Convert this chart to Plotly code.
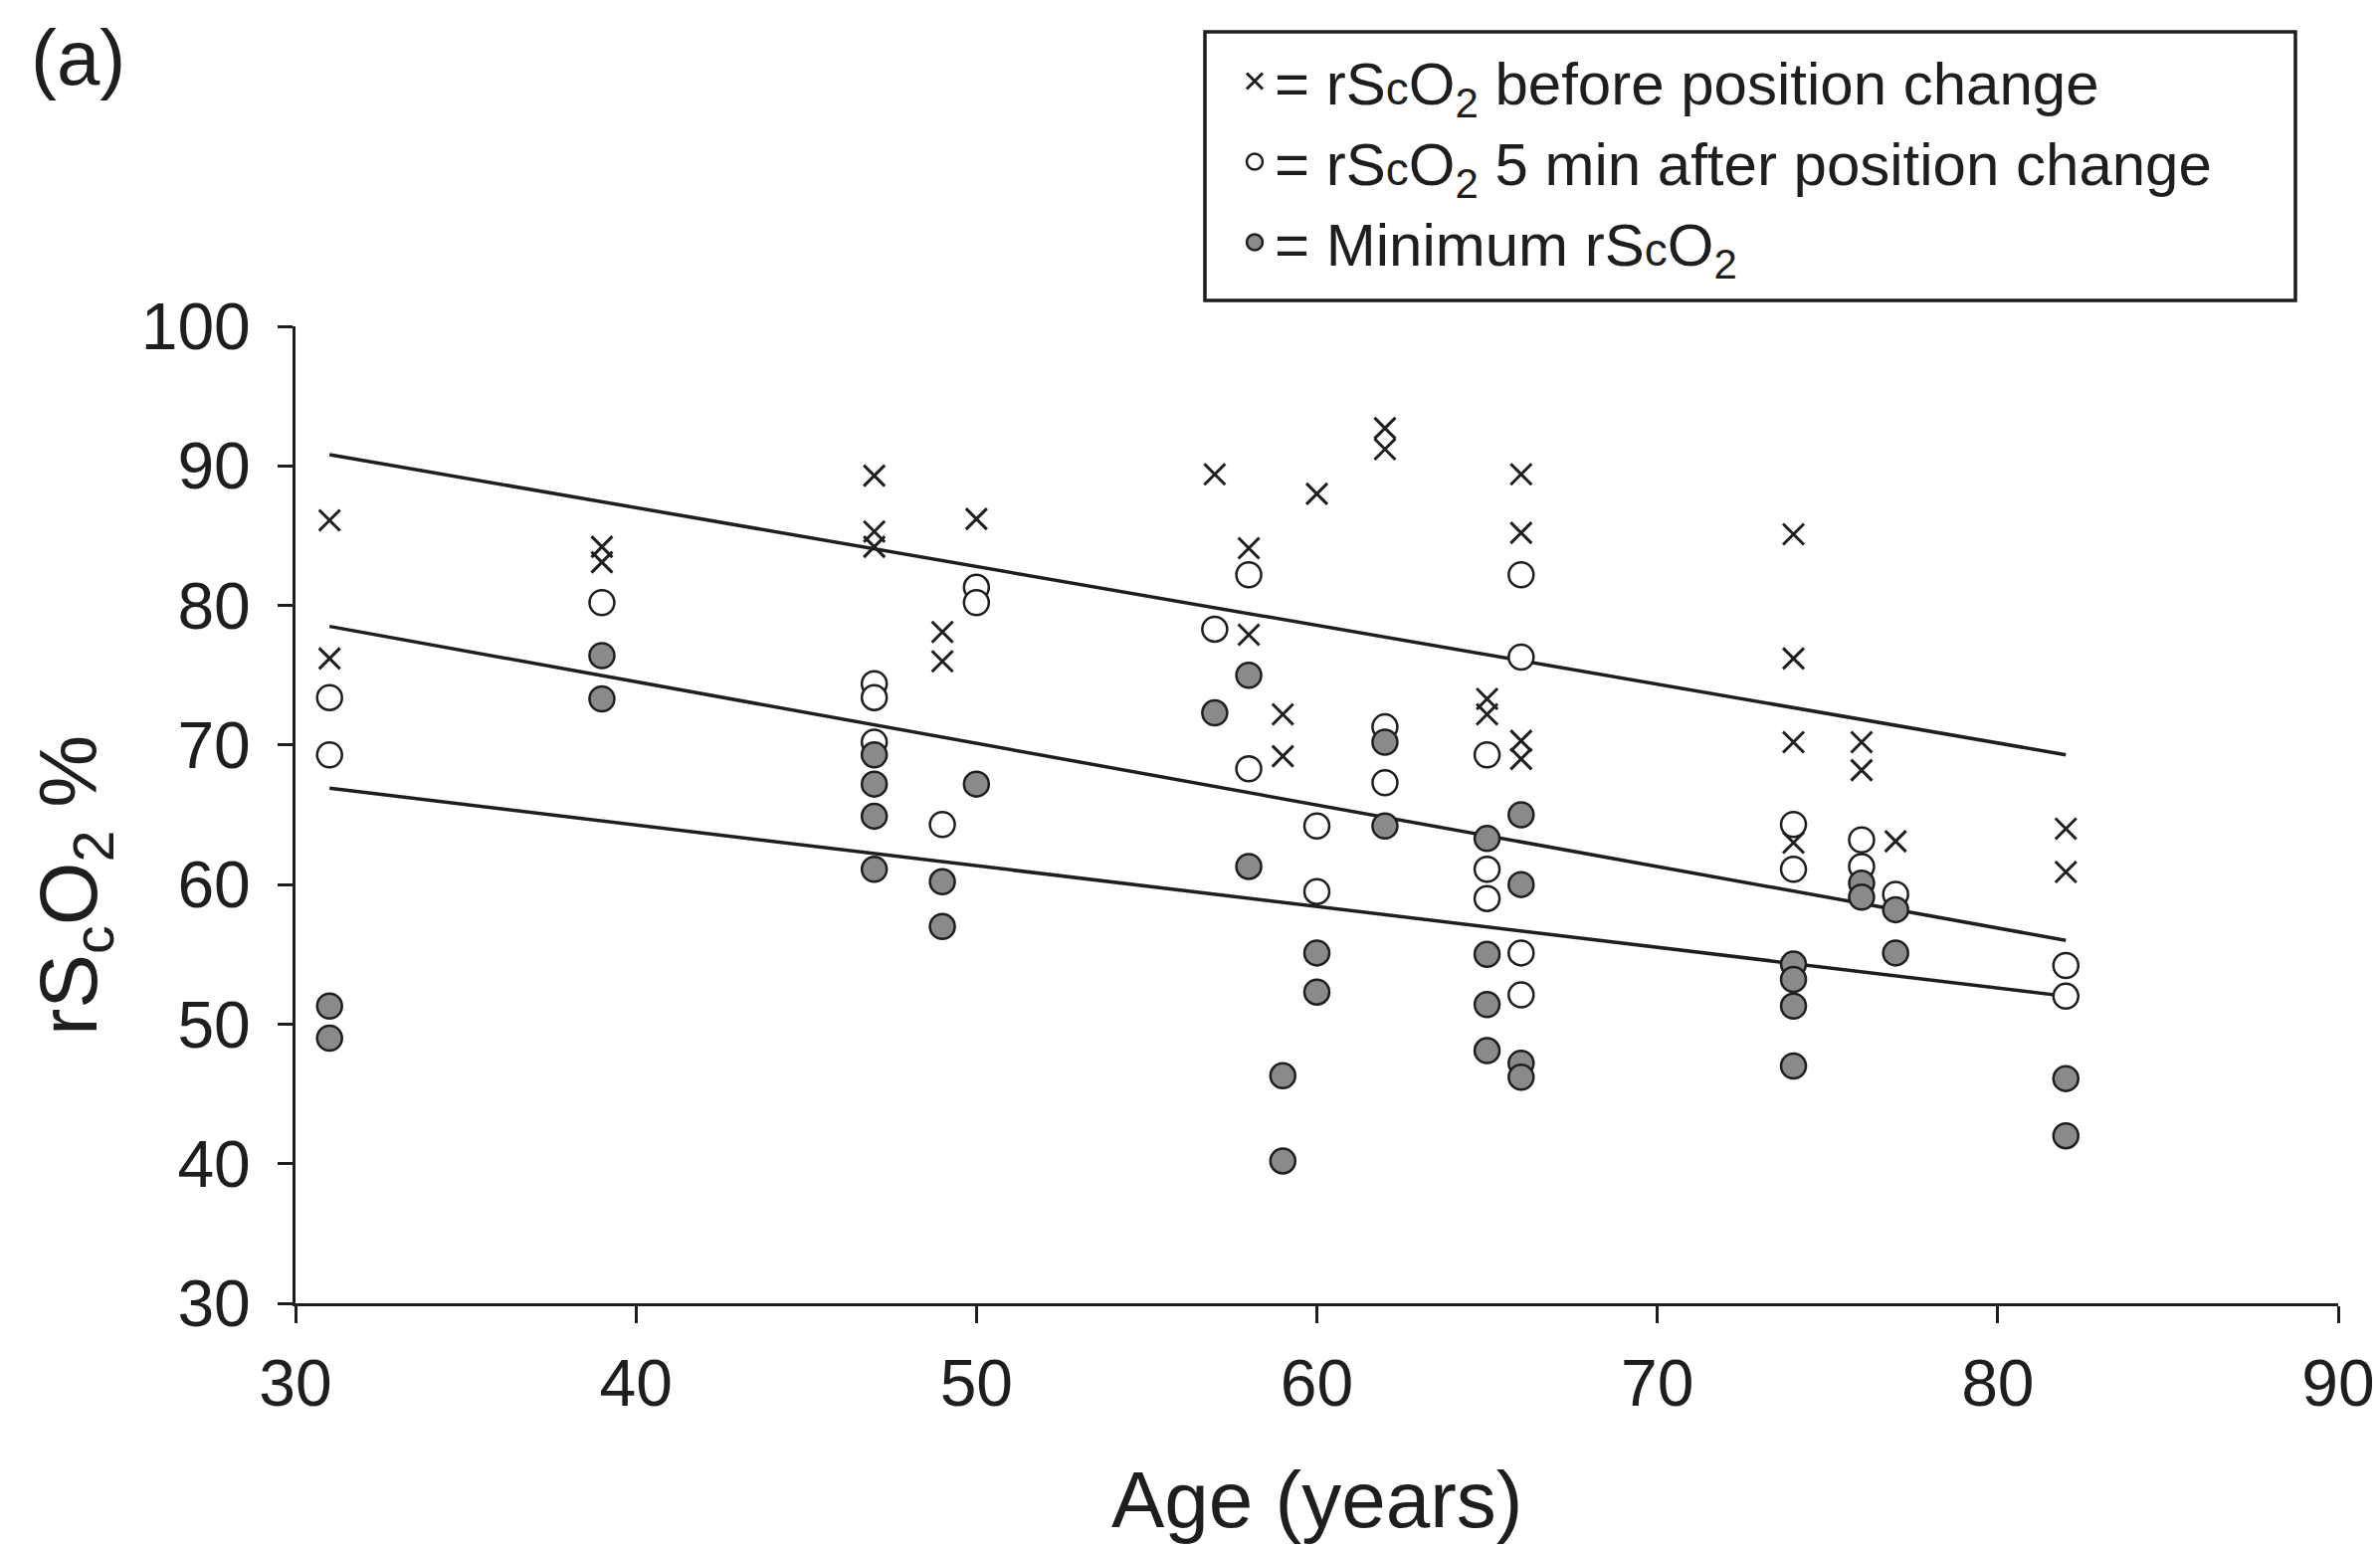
import plotly.graph_objects as go

# ---- data ----
before_age = [31, 31, 39, 39, 47, 47, 47, 49, 49, 50, 57, 58, 58, 59, 59, 60, 62, 62,
              65, 65, 66, 66, 66, 66, 74, 74, 74, 74, 76, 76, 77, 82, 82]
before_val = [86.1, 76.2, 84.2, 83.1, 89.3, 85.3, 84.2, 78.1, 76.0, 86.2, 89.4, 84.1, 77.9,
              72.2, 69.2, 88.0, 92.7, 91.2, 73.3, 72.2, 89.4, 85.2, 70.3, 69.0,
              85.1, 76.2, 70.2, 63.0, 70.2, 68.2, 63.1, 64.0, 60.9]

after_age = [31, 31, 39, 47, 47, 47, 49, 50, 50, 57, 58, 58, 60, 60, 62, 62,
             65, 65, 65, 66, 66, 66, 66, 74, 74, 76, 76, 77, 82, 82]
after_val = [73.4, 69.3, 80.2, 74.4, 73.4, 70.2, 64.3, 81.3, 80.2, 78.3, 82.2, 68.3,
             64.2, 59.5, 71.3, 67.3, 69.3, 61.1, 59.0, 82.2, 76.3, 55.1, 52.1,
             64.3, 61.1, 63.2, 61.3, 59.3, 54.2, 52.0]

min_age = [31, 31, 39, 39, 47, 47, 47, 47, 49, 49, 50, 57, 58, 58, 59, 59, 60, 60, 62, 62,
           65, 65, 65, 65, 66, 66, 66, 66, 74, 74, 74, 74, 76, 76, 77, 77, 82, 82]
min_val = [51.3, 49.0, 76.4, 73.3, 69.3, 67.2, 64.9, 61.1, 60.2, 57.0, 67.2, 72.3, 75.0, 61.3,
           46.3, 40.2, 55.1, 52.3, 70.2, 64.2, 63.3, 55.0, 51.4, 48.1, 65.0, 60.0, 47.2, 46.2,
           54.3, 53.2, 51.3, 47.0, 60.1, 59.1, 58.2, 55.1, 46.1, 42.0]

trend_age = [31, 82]
trend_before = [90.8, 69.3]
trend_after = [78.5, 56.0]
trend_min = [66.9, 52.0]

x_ticks = [30, 40, 50, 60, 70, 80, 90]
y_ticks = [30, 40, 50, 60, 70, 80, 90, 100]

SC = "<span style='font-size:46px'>c</span>"
legend_before = "= rS" + SC + "O<sub>2</sub> before position change"
legend_after = "= rS" + SC + "O<sub>2</sub> 5 min after position change"
legend_min = "= Minimum rS" + SC + "O<sub>2</sub>"
y_title = "rS<sub>c</sub>O<sub>2</sub> %"
x_title = "Age (years)"
panel_label = "(a)"

INK = "#1e1e1e"
GRAY = "#8a8a8a"
FONT = "Liberation Sans, Arial, Helvetica, sans-serif"

# page body has an 8px margin: the figure is shrunk by that and placed from (8, 8)
PAGE_OFF = 8
W, H = 2392 - PAGE_OFF, 1556 - PAGE_OFF
L, R, T, B = 297 - PAGE_OFF, 42, 328 - PAGE_OFF, 246
PW = 2392 - 42 - 297   # plot width in px
PH = 1310 - 328        # plot height in px

fig = go.Figure()

for ys in (trend_before, trend_after, trend_min):
    fig.add_trace(go.Scatter(x=trend_age, y=ys, mode="lines",
                             line=dict(color=INK, width=3.5), showlegend=False,
                             hoverinfo="skip"))

fig.add_trace(go.Scatter(x=before_age, y=before_val, mode="markers", name=legend_before,
                         marker=dict(symbol="x-thin-open", size=21,
                                     line=dict(color=INK, width=3), color=INK)))
fig.add_trace(go.Scatter(x=after_age, y=after_val, mode="markers", name=legend_after,
                         marker=dict(symbol="circle", size=25, color="white",
                                     line=dict(color=INK, width=2.5))))
fig.add_trace(go.Scatter(x=min_age, y=min_val, mode="markers", name=legend_min,
                         marker=dict(symbol="circle", size=25, color=GRAY,
                                     line=dict(color=INK, width=2.5))))

tick_font = dict(family=FONT, size=66, color=INK)

fig.update_xaxes(range=[30, 90], tickvals=x_ticks, ticktext=[str(v) for v in x_ticks],
                 showline=True, linecolor=INK, linewidth=3, ticks="outside",
                 ticklen=17, tickwidth=3, tickcolor=INK, showgrid=False, zeroline=False,
                 tickfont=tick_font, ticklabelstandoff=4, automargin=False)
fig.update_yaxes(range=[30, 100], tickvals=y_ticks, ticktext=[str(v) for v in y_ticks],
                 showline=True, linecolor=INK, linewidth=3, ticks="outside",
                 ticklen=15, tickwidth=3, tickcolor=INK, showgrid=False, zeroline=False,
                 tickfont=tick_font, ticklabelstandoff=14, automargin=False)

fig.add_annotation(text=x_title, xref="paper", yref="paper", x=0.5, y=0,
                   yshift=-197, xanchor="center", yanchor="middle", showarrow=False,
                   font=dict(family=FONT, size=80, color=INK))
fig.add_annotation(text=y_title, xref="paper", yref="paper", x=0, y=0.4277,
                   xshift=-222, xanchor="center", yanchor="middle", textangle=-90,
                   showarrow=False, font=dict(family=FONT, size=82, color=INK))
fig.add_annotation(text=panel_label, xref="paper", yref="paper", x=0, y=1,
                   xshift=-219, yshift=270, xanchor="center", yanchor="middle",
                   showarrow=False, font=dict(family=FONT, size=78, color=INK))

# legend frame (page pixels -> paper fractions)
bx0, bx1, by0, by1 = 1211, 2307, 32, 302
fig.add_shape(type="rect", xref="paper", yref="paper",
              x0=(bx0 - 297) / PW, x1=(bx1 - 297) / PW,
              y0=(1310 - by1) / PH, y1=(1310 - by0) / PH,
              line=dict(color=INK, width=3.5), fillcolor="rgba(0,0,0,0)", layer="above")

fig.update_layout(
    width=W, height=H,
    margin=dict(l=L, r=R, t=T, b=B, autoexpand=False),
    paper_bgcolor="white", plot_bgcolor="white",
    legend=dict(x=(bx0 - 297) / PW, y=(1310 - by0 - 4) / PH, xanchor="left", yanchor="top",
                borderwidth=0, bgcolor="rgba(0,0,0,0)",
                font=dict(family=FONT, size=60, color=INK),
                indentation=30, itemsizing="trace"),
)

fig.write_html("out.html")
